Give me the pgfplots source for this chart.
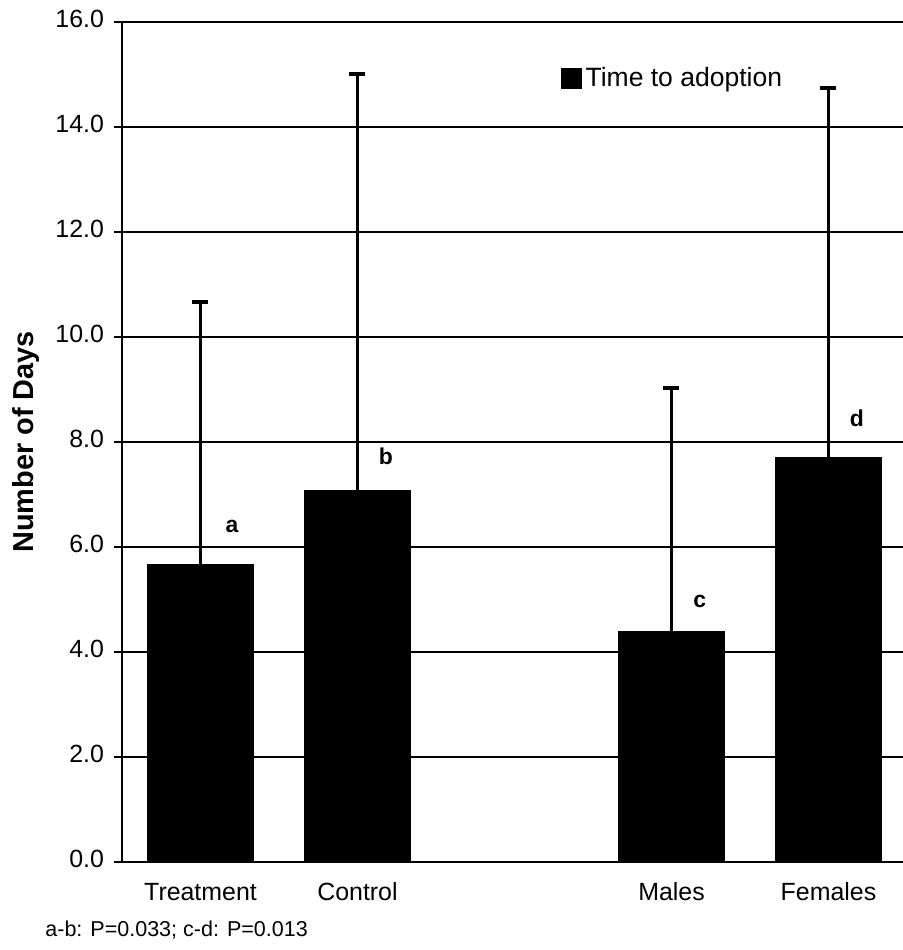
\documentclass[border=0pt]{standalone}
\usepackage{fontspec}
\setmainfont{Liberation Sans}
\usepackage{pgfplots}
\pgfplotsset{compat=1.18}

% mean time to adoption with the upper error (SD)
\pgfplotstableread{
x   days  err
0   5.66  5.01
1   7.08  7.92
3   4.39  4.64
4   7.71  7.03
}\adoption

\begin{document}
\begin{tikzpicture}
\useasboundingbox (-61bp,-44bp) rectangle (390.5bp,431bp);
\begin{axis}[
  scale only axis,
  width=392.5bp, height=420bp,
  at={(0,0)}, anchor=south west,
  xmin=-0.5, xmax=4.5,
  ymin=0, ymax=16,
  axis lines=left,
  axis line style={-, line width=1.2bp},
  ytick={0,2,...,16},
  ymajorgrids,
  grid style={black, line width=0.8bp},
  yticklabel style={/tikz/xshift=-1.5bp, /pgf/number format/.cd, fixed, fixed zerofill, precision=1, assume math mode=true},
  tick label style={font=\fontsize{12.5}{14}\selectfont, black},
  typeset ticklabels with strut,
  tick align=outside,
  major tick length=4bp,
  minor tick length=3bp,
  tick style={black, line width=0.7bp},
  xtick=\empty,
  minor xtick={-0.5,0.5,1.5,2.5,3.5,4.5},
  extra x ticks={0,1,3,4},
  extra x tick labels={Treatment,Control,Males,Females},
  extra x tick style={major tick length=0pt, tick label style={yshift=-6bp}},
  every axis y label/.style={at={(axis description cs:-0.1223,0.5)}, rotate=90, anchor=center},
  ylabel={\fontsize{14.5}{16}\selectfont\bfseries Number of Days},
  ybar, bar width=53bp,
  legend style={draw=none, fill=white, at={(rel axis cs:0.556,0.933)}, anchor=west,
    font=\fontsize{13.3}{15}\selectfont, inner sep=1bp,
    /tikz/every even column/.append style={column sep=0bp}},
  legend image code/.code={\fill[black] (0bp,-5bp) rectangle (10bp,5bp);},
  clip=false,
]
\addplot[fill=black, draw=black,
  error bars/.cd, y dir=plus, y explicit,
  error bar style={line width=1.5bp, black},
  error mark options={rotate=90, mark size=4bp, line width=2bp, black}]
  table[x=x, y=days, y error=err] {\adoption};
\addlegendentry{Time to adoption}

\node[font=\fontsize{11.5}{13}\selectfont\bfseries] at (axis cs:0.20,6.39) {a};
\node[font=\fontsize{11.5}{13}\selectfont\bfseries] at (axis cs:1.18,7.72) {b};
\node[font=\fontsize{11.5}{13}\selectfont\bfseries] at (axis cs:3.18,4.96) {c};
\node[font=\fontsize{11.5}{13}\selectfont\bfseries] at (axis cs:4.18,8.46) {d};
\end{axis}
\node[anchor=west, inner sep=0pt, font=\fontsize{10.8}{12}\selectfont] at (-38.5bp,-34bp) {a-b: P=0.033; c-d: P=0.013};
\end{tikzpicture}
\end{document}
